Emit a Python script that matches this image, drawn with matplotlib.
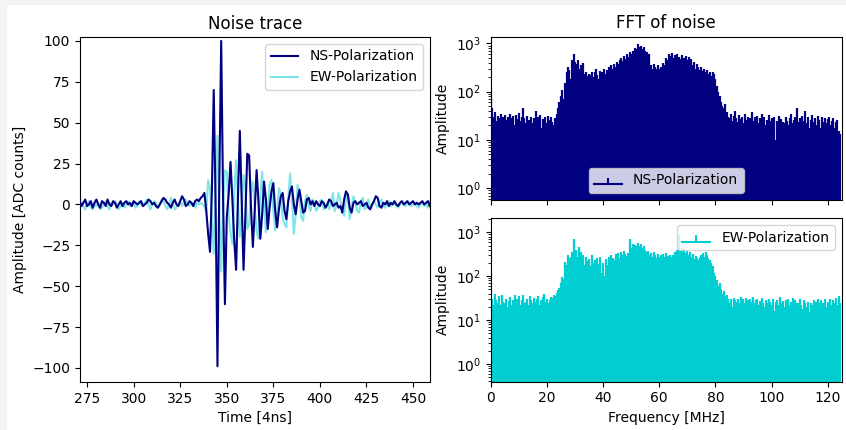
import numpy as np
import matplotlib
matplotlib.use("Agg")
import matplotlib.pyplot as plt
from matplotlib.patches import Rectangle

# ---------------- data ----------------
t_start = 270  # first sample index [4 ns]
ns_trace = [
    1, 2, -1, 1, 3, -1, 0, 2, -2, 1,
    3, 0, -2, 2, 1, -1, 3, 0, -1, 2,
    1, -2, 0, 2, -1, 1, 2, 0, 1, -1,
    2, 1, 0, 1, 2, -1, 0, 1, 3, 2,
    0, 1, -1, -2, 0, 2, 4, 3, 1, 0,
    -2, 1, 3, 0, -1, 2, 5, 3, -1, 0,
    2, 1, -1, 2, 3, 2, 4, 5, 7, -4,
    -18, -29, 8, 70, 0, -99, 15, 100, 5, -61,
    -8, 6, 26, 3, -22, -40, 4, 45, 2, -40,
    -6, 31, 30, -2, -26, -4, 21, 2, -21, -6,
    14, 3, -15, -2, 8, 13, -4, -14, -3, 5,
    7, -4, -9, 2, 8, 11, 0, -6, 3, 9,
    2, -5, -4, 3, 4, 0, 2, -1, 2, 0,
    -1, 2, 1, -2, 0, 3, 2, -1, 0, 1,
    -2, -1, -5, 3, 8, 6, -2, -5, 1, 2,
    0, 1, 2, -1, 0, 1, -2, -3, 0, 2,
    5, 4, -1, -2, 1, 0, 2, -1, 1, 0,
    2, 0, -1, 1, 2, 0, 1, 2, 0, 1,
    2, 0, 1, 0, 1, 2, 0, 1, 2, -1,
]
ew_trace = [
    0, -2, 1, -1, -3, 0, 2, -2, -3, 0,
    -1, 1, -3, -2, 0, 2, -1, -3, 1, 0,
    2, 0, -3, -1, 1, -2, 0, 2, -1, 0,
    1, -2, -1, 2, 0, -1, 1, 3, 0, -3,
    0, 2, 1, -2, 0, 3, 2, -1, -3, 0,
    4, 1, -3, -2, 0, 2, -1, 1, 3, 0,
    -1, 1, 0, -2, 1, 0, 1, 0, -1, -5,
    15, 10, -10, -30, 10, 42, -5, -41, 0, 21,
    20, -5, -18, -24, 5, 27, 2, -20, -5, 18,
    10, -15, -12, 8, 14, -2, -16, -21, 5, 20,
    2, -17, -6, 12, 15, -4, -16, -5, 10, 6,
    -8, -12, -14, 4, 19, 3, -18, -6, 12, 6,
    -8, -10, 2, 6, -1, -4, 3, 1, -4, -2,
    2, 3, -3, -2, 1, -3, 2, 7, -4, 0,
    7, 2, -4, -7, 3, 6, -9, -2, 5, 1,
    -4, -5, 2, 4, -3, -1, 3, -2, -1, 2,
    0, -2, 1, 3, -1, -2, 1, 2, -1, 0,
    1, -1, -2, 0, 1, 0, -1, 1, 0, -1,
    0, 1, -1, -2, 0, 1, -1, 0, -2, 2,
]

freq_step = 0.5  # MHz
ns_fft = [
    85, 45, 30, 38, 25, 32, 28, 35, 22, 30,
    33, 26, 30, 24, 35, 28, 31, 20, 33, 27,
    36, 25, 30, 45, 28, 22, 32, 26, 24, 30,
    22, 28, 40, 25, 30, 33, 18, 27, 24, 30,
    22, 32, 26, 30, 24, 20, 28, 35, 45, 60,
    80, 110, 70, 150, 250, 320, 280, 180, 450, 600,
    420, 380, 450, 300, 350, 280, 400, 230, 260, 210,
    230, 220, 250, 200, 260, 300, 220, 180, 270, 250,
    200, 300, 230, 280, 320, 260, 350, 300, 380, 330,
    420, 370, 450, 500, 430, 550, 480, 600, 520, 650,
    600, 700, 680, 800, 750, 950, 850, 900, 780, 820,
    700, 650, 500, 600, 350, 300, 380, 320, 290, 350,
    300, 330, 280, 400, 350, 500, 450, 600, 550, 620,
    500, 580, 450, 600, 520, 480, 560, 430, 500, 550,
    450, 520, 400, 480, 350, 420, 300, 380, 320, 280,
    330, 270, 300, 250, 280, 230, 260, 210, 250, 230,
    180, 130, 100, 80, 60, 50, 45, 55, 38, 30,
    28, 35, 25, 32, 40, 28, 24, 33, 27, 30,
    22, 35, 26, 30, 20, 28, 38, 25, 30, 24,
    32, 22, 28, 35, 24, 30, 20, 26, 33, 25,
    28, 22, 30, 10, 25, 32, 20, 27, 24, 22,
    30, 25, 20, 28, 35, 22, 26, 30, 45, 24,
    28, 20, 32, 25, 40, 22, 30, 18, 26, 33,
    24, 28, 20, 32, 26, 18, 30, 24, 28, 22,
    27, 30, 20, 25, 28, 18, 24, 26, 15, 13,
]
ew_fft = [
    50, 30, 22, 40, 28, 25, 35, 22, 38, 26,
    24, 30, 20, 27, 33, 22, 28, 38, 25, 30,
    35, 22, 28, 38, 24, 26, 30, 22, 35, 28,
    24, 32, 26, 30, 35, 22, 28, 33, 40, 26,
    30, 25, 28, 34, 32, 38, 36, 42, 48, 55,
    70, 95, 85, 210, 180, 300, 260, 280, 350, 720,
    300, 400, 280, 470, 350, 250, 300, 180, 270, 220,
    250, 170, 300, 200, 240, 150, 260, 190, 280, 120,
    200, 100, 250, 180, 280, 220, 300, 260, 240, 320,
    280, 330, 260, 350, 300, 380, 320, 290, 340, 700,
    450, 550, 500, 520, 480, 560, 500, 530, 450, 480,
    400, 350, 380, 300, 330, 280, 350, 300, 260, 320,
    280, 300, 250, 320, 270, 340, 290, 260, 310, 280,
    300, 350, 320, 400, 870, 380, 450, 350, 420, 330,
    380, 300, 350, 280, 320, 250, 290, 260, 240, 280,
    300, 340, 280, 350, 310, 260, 240, 200, 170, 120,
    100, 80, 60, 70, 50, 40, 45, 35, 38, 30,
    25, 30, 20, 32, 28, 26, 30, 24, 33, 27,
    30, 25, 32, 28, 22, 30, 26, 33, 24, 28,
    30, 22, 27, 32, 25, 20, 28, 24, 30, 26,
    22, 30, 16, 26, 28, 22, 33, 24, 27, 20,
    28, 24, 30, 22, 26, 32, 20, 28, 25, 24,
    30, 22, 18, 28, 25, 20, 26, 15, 24, 22,
    28, 20, 26, 30, 24, 28, 22, 25, 30, 20,
    26, 24, 30, 22, 28, 25, 32, 22, 35, 24,
]

time = np.arange(t_start, t_start + len(ns_trace))
freq = np.arange(len(ns_fft)) * freq_step

NS_COLOR = "navy"
EW_COLOR = "darkturquoise"

# ---------------- figure ----------------
W, H = 846, 430
fig = plt.figure(figsize=(W / 100, H / 100), dpi=100)
fig.patch.set_facecolor("#f4f4f4")
fig.patches.append(Rectangle((7 / W, 0), 1, 1 - 5 / H, transform=fig.transFigure,
                             facecolor="white", edgecolor="none", zorder=-10))

def box(l, t, r, b):
    return [l / W, 1 - b / H, (r - l) / W, (b - t) / H]

ax1 = fig.add_axes(box(80, 37, 430, 382))
ax2 = fig.add_axes(box(490.7, 36.7, 841.7, 200))
ax3 = fig.add_axes(box(490.7, 218, 841.7, 381.7), sharex=ax2)

# Noise trace
ax1.plot(time, ns_trace, color=NS_COLOR, lw=1.5, label="NS-Polarization", zorder=3)
ax1.plot(time, ew_trace, color=EW_COLOR, alpha=0.5, lw=1.5, label="EW-Polarization", zorder=2)
ax1.set_xlim(271.2, 459.1)
ax1.set_ylim(-108.6, 102.4)
ax1.set_xticks([275, 300, 325, 350, 375, 400, 425, 450])
ax1.set_yticks([-100, -75, -50, -25, 0, 25, 50, 75, 100])
ax1.set_xlabel("Time [4ns]")
ax1.set_ylabel("Amplitude [ADC counts]")
ax1.set_title("Noise trace")
ax1.legend(loc="upper right")

# FFT panels
def stem_panel(ax, f, vals, color, label, loc):
    ax.set_yscale("log")
    markerline, stemlines, baseline = ax.stem(f, vals, linefmt="-", bottom=1e-3, label=label)
    markerline.set_marker("None")
    markerline.set_color(color)
    stemlines.set_color(color)
    stemlines.set_linewidth(1.6)
    baseline.set_color(color)
    ax.set_xlim(0, 125)
    ax.set_ylabel("Amplitude")
    leg = ax.legend(loc=loc)
    for h in leg.legend_handles:
        try:
            h.set_linewidth(1.5)
        except Exception:
            pass

stem_panel(ax2, freq, ns_fft, NS_COLOR, "NS-Polarization", "lower center")
ax2.set_ylim(0.57, 1370)
ax2.set_title("FFT of noise")
plt.setp(ax2.get_xticklabels(), visible=False)

stem_panel(ax3, freq, ew_fft, EW_COLOR, "EW-Polarization", "upper right")
ax3.set_ylim(0.395, 2120)
ax3.set_xticks([0, 20, 40, 60, 80, 100, 120])
ax3.set_xlabel("Frequency [MHz]")

fig.savefig("out.png", dpi=100, facecolor=fig.get_facecolor())
